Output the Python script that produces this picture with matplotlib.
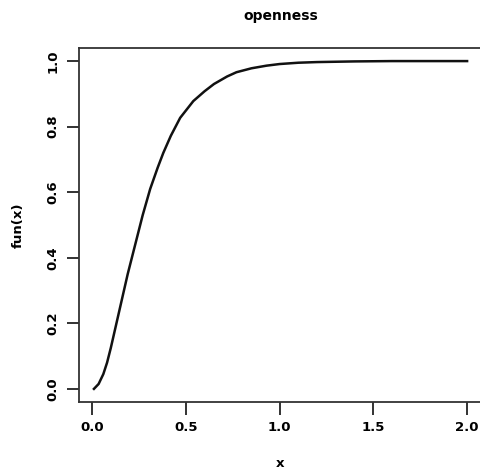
import matplotlib
matplotlib.use("Agg")
import matplotlib.pyplot as plt

# values
x = [0.01, 0.035, 0.06, 0.08, 0.10, 0.13, 0.16, 0.19, 0.23, 0.27, 0.31, 0.35,
     0.38, 0.42, 0.47, 0.54, 0.60, 0.65, 0.72, 0.77, 0.85, 0.93, 1.00, 1.10,
     1.20, 1.40, 1.60, 1.80, 2.00]
y = [0.0, 0.015, 0.045, 0.08, 0.125, 0.20, 0.275, 0.35, 0.44, 0.53, 0.61, 0.675,
     0.72, 0.772, 0.827, 0.878, 0.908, 0.93, 0.953, 0.966, 0.978, 0.986, 0.991,
     0.995, 0.997, 0.999, 1.0, 1.0, 1.0]

xticks = [0.0, 0.5, 1.0, 1.5, 2.0]
yticks = [0.0, 0.2, 0.4, 0.6, 0.8, 1.0]

plt.rcParams['font.family'] = ['DejaVu Sans']

fig = plt.figure(figsize=(4.8, 4.75), dpi=100)
ax = fig.add_axes([0.1646, 0.1537, 0.8396, 0.7453])

ax.plot(x, y, color="#111111", lw=1.8, solid_joinstyle="round")

ax.set_xlim(-0.0696, 2.0796)
ax.set_ylim(-0.04, 1.04)
ax.set_xticks(xticks)
ax.set_xticklabels(["0.0", "0.5", "1.0", "1.5", "2.0"], fontsize=9.5, fontweight="bold")
ax.set_yticks(yticks)
ax.set_yticklabels(["0.0", "0.2", "0.4", "0.6", "0.8", "1.0"], fontsize=9.5,
                   fontweight="bold", rotation=90, va="center")
ax.tick_params(direction="out", length=9, width=1.3, color="#222222", pad=5)

for s in ax.spines.values():
    s.set_linewidth(1.3)
    s.set_color("#333333")

ax.set_title("openness", fontsize=10, fontweight="bold", pad=20)
ax.set_xlabel("x", fontsize=9.5, fontweight="bold", labelpad=16)
ax.set_ylabel("fun(x)", fontsize=9.5, fontweight="bold", labelpad=16)

fig.savefig("out.png", dpi=100)
